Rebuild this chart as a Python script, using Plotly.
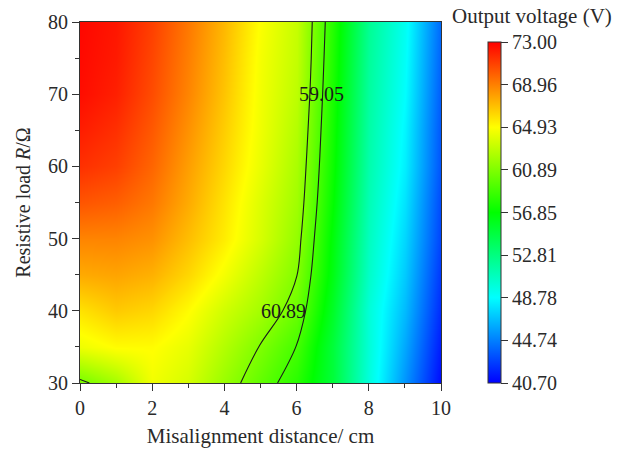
import plotly.graph_objects as go

# ---- data ----
x_cm = [0, 1, 2, 3, 4, 5, 6, 7, 8, 9, 10]
y_ohm = [30, 35, 40, 45, 50, 55, 60, 65, 70, 75, 80]
voltage = [
    [60.5, 62.0, 64.5, 63.6, 61.7, 59.9, 58.1, 55.0, 49.8, 45.4, 41.0],  # 30
    [64.4, 65.0, 65.0, 64.2, 62.5, 60.8, 59.0, 55.0, 50.0, 46.0, 41.5],  # 35
    [65.8, 66.6, 66.2, 65.0, 63.4, 62.0, 60.2, 55.6, 50.0, 46.6, 42.0],  # 40
    [67.6, 67.8, 67.4, 66.2, 64.6, 62.8, 60.95, 56.2, 50.5, 47.1, 42.4],  # 45
    [68.8, 68.8, 68.4, 67.0, 65.5, 63.6, 61.5, 56.5, 50.8, 47.5, 42.8],  # 50
    [70.3, 70.0, 69.2, 67.6, 65.8, 63.8, 61.9, 56.9, 51.1, 47.9, 43.0],  # 55
    [71.5, 71.0, 69.8, 68.0, 66.2, 64.2, 62.2, 57.2, 51.4, 48.3, 43.3],  # 60
    [72.1, 71.5, 70.2, 68.4, 66.5, 64.4, 62.5, 57.4, 51.6, 48.5, 43.4],  # 65
    [72.6, 72.0, 70.6, 68.8, 66.8, 64.5, 62.8, 57.6, 51.8, 48.8, 43.6],  # 70
    [72.7, 72.2, 70.8, 69.0, 67.0, 64.6, 63.0, 57.8, 52.0, 49.0, 43.8],  # 75
    [72.8, 72.3, 71.0, 69.2, 67.2, 64.8, 63.1, 58.0, 52.2, 49.2, 44.0],  # 80
]
cbar_ticks = [40.70, 44.74, 48.78, 52.81, 56.85, 60.89, 64.93, 68.96, 73.00]
contour_levels = [59.05, 60.89]
# contour label placement (data coords)
label_text = ["59.05", "60.89"]
label_x = [6.70, 5.63]
label_y = [70.0, 40.0]
x_ticks = [0, 2, 4, 6, 8, 10]
y_ticks = [30, 40, 50, 60, 70, 80]

FONT = "Liberation Serif"
TXT = "#2a2a2a"
rainbow = [[0.0, "rgb(0,0,255)"], [0.25, "rgb(0,255,255)"], [0.5, "rgb(0,255,0)"],
           [0.75, "rgb(255,255,0)"], [1.0, "rgb(255,0,0)"]]

fig = go.Figure()
fig.add_trace(go.Heatmap(
    x=x_cm, y=y_ohm, z=voltage, zsmooth="best",
    colorscale=rainbow, zmin=cbar_ticks[0], zmax=cbar_ticks[-1],
    colorbar=dict(
        x=(488 - 80) / 361, xanchor="left", y=0, yanchor="bottom",
        len=341 / 361, lenmode="fraction", thickness=13,
        xpad=0, ypad=0, outlinewidth=1, outlinecolor="#333",
        tickmode="array", tickvals=cbar_ticks,
        ticktext=[f"{v:.2f}" for v in cbar_ticks],
        ticks="outside", ticklen=7, tickcolor="#333",
        tickfont=dict(family=FONT, size=20, color=TXT),
    ),
    hoverinfo="skip",
))
fig.add_trace(go.Contour(
    x=x_cm, y=y_ohm, z=voltage, showscale=False,
    contours=dict(coloring="lines", start=contour_levels[0], end=contour_levels[-1],
                  size=contour_levels[1] - contour_levels[0], showlabels=False),
    colorscale=[[0, "#1a1a1a"], [1, "#1a1a1a"]],
    line=dict(width=1.1, color="#1a1a1a"),
    hoverinfo="skip",
))

for t, lx, ly in zip(label_text, label_x, label_y):
    fig.add_annotation(text=t, x=lx, y=ly, xref="x", yref="y", showarrow=False,
                       xanchor="center", yanchor="middle",
                       font=dict(family=FONT, size=20, color="#1a1a1a"))

fig.add_annotation(text="Output voltage (V)", xref="paper", yref="paper",
                   x=(532 - 80) / 361, y=(383 - 16) / 361, xanchor="center", yanchor="middle",
                   showarrow=False, font=dict(family=FONT, size=21, color=TXT))

fig.update_layout(
    width=637, height=452,
    margin=dict(l=80, r=196, t=22, b=69),
    paper_bgcolor="white", plot_bgcolor="white",
    font=dict(family=FONT, size=20, color=TXT),
    showlegend=False,
)
fig.update_xaxes(
    range=[0, 10], tickmode="array", tickvals=x_ticks, automargin=False,
    ticks="outside", ticklen=7, tickcolor="#333",
    minor=dict(ticks="outside", ticklen=4, dtick=1, tickcolor="#333"),
    showline=True, mirror=True, linecolor="#333", linewidth=1,
    showgrid=False, zeroline=False,
    title=dict(text="Misalignment distance/ cm", font=dict(family=FONT, size=21, color=TXT), standoff=10),
    tickfont=dict(family=FONT, size=20, color=TXT),
)
fig.update_yaxes(
    range=[30, 80], tickmode="array", tickvals=y_ticks, automargin=False,
    ticks="outside", ticklen=7, tickcolor="#333",
    minor=dict(ticks="outside", ticklen=4, dtick=5, tickcolor="#333"),
    showline=True, mirror=True, linecolor="#333", linewidth=1,
    showgrid=False, zeroline=False,
    title=dict(text="Resistive load <i>R</i>/Ω", font=dict(family=FONT, size=20, color=TXT), standoff=12),
    tickfont=dict(family=FONT, size=20, color=TXT),
)

fig.write_html("out.html")
